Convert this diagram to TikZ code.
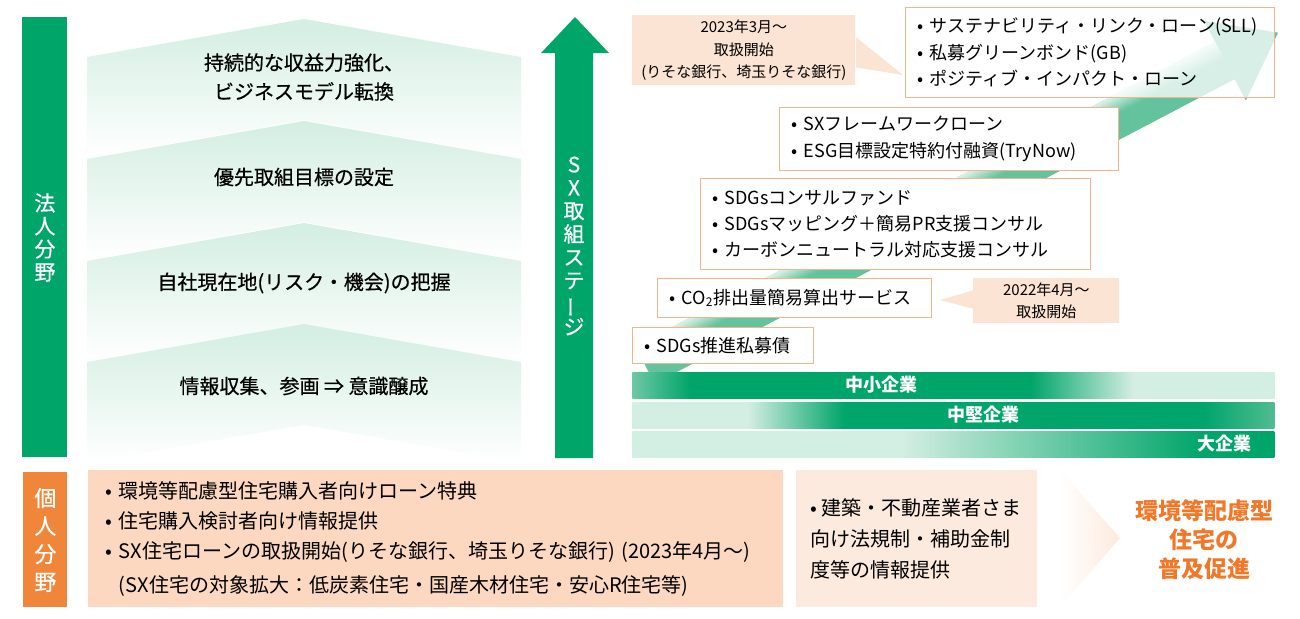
\documentclass[tikz,border=0pt]{standalone}
\usepackage{fontspec}
\setmainfont{Noto Sans CJK JP}
\newfontfamily\medjp{Noto Sans CJK JP}[FakeBold=0.5]
\usetikzlibrary{positioning,calc}
\definecolor{sxgreen}{RGB}{0,165,106}
\definecolor{palegreen}{RGB}{211,238,226}
\definecolor{barstart}{RGB}{110,200,165}
\definecolor{barend}{RGB}{80,188,145}
\definecolor{bandgreen}{RGB}{98,195,156}
\definecolor{bandpale}{RGB}{222,243,234}
\definecolor{boxorange}{RGB}{246,180,140}
\definecolor{callfill}{RGB}{252,228,212}
\definecolor{kojinorange}{RGB}{240,134,58}
\definecolor{peach}{RGB}{252,216,192}
\definecolor{lightpeach}{RGB}{253,234,222}
\definecolor{txtorange}{RGB}{240,120,40}
% path shadings: the 25bp--75bp part is stretched over the path
\pgfdeclarehorizontalshading{barsme}{100bp}{color(0bp)=(barstart); color(25bp)=(barstart); color(29.5bp)=(sxgreen); color(56bp)=(sxgreen); color(64bp)=(palegreen); color(100bp)=(palegreen)}
\pgfdeclarehorizontalshading{barmid}{100bp}{color(0bp)=(palegreen); color(34bp)=(palegreen); color(41.5bp)=(sxgreen); color(69.5bp)=(sxgreen); color(75bp)=(barend); color(100bp)=(barend)}
\pgfdeclarehorizontalshading{barlarge}{100bp}{color(0bp)=(palegreen); color(46bp)=(palegreen); color(69.5bp)=(sxgreen); color(100bp)=(sxgreen)}
\tikzset{
  sidebar/.style={anchor=north west,text=white,align=center,inner sep=0pt},
  chevtext/.style={font=\medjp\fontsize{10}{14.5}\selectfont,align=center},
  itembox/.style={draw=boxorange,line width=0.6pt,fill=white,anchor=north west,align=left,inner xsep=6pt,inner ysep=0pt},
  callout/.style={fill=callfill,anchor=north west,align=center,inner sep=0pt,font=\fontsize{7.5}{11.25}\selectfont},
  stagebar/.style={shade,anchor=north west,minimum width=321pt,minimum height=13pt,inner sep=0pt},
  bartext/.style={text=white,font=\fontsize{9}{10}\selectfont\bfseries},
}
\begin{document}
\begin{tikzpicture}[x=0.5pt,y=-0.5pt]
\useasboundingbox(0,0)rectangle(1300,618);
%corporate side bar
\node[sidebar,fill=sxgreen,minimum width=22.5pt,minimum height=220pt,font=\medjp\fontsize{10.5}{11.5}\selectfont](hojin)at(22,17){法\\人\\分\\野};
%chevrons
\foreach \a in {19,121,223,324}
  \shade[top color=palegreen,bottom color=white](87,\a+38)--(304,\a)--(521,\a+38)--(521,\a+139)--(304,\a+101)--(87,\a+139)--cycle;
\node[chevtext](chev1)at(304,77){持続的な収益力強化、\\ビジネスモデル転換};
\node[chevtext](chev2)at(304,177){優先取組目標の設定};
\node[chevtext](chev3)at(304,283){自社現在地(リスク・機会)の把握};
\node[chevtext](chev4)at(304,386){情報収集、参画 ⇒ 意識醸成};
%stage arrow
\fill[sxgreen](555,458)--(555,53)--(541,53)--(575,17)--(609,53)--(593,53)--(593,458)--cycle;
\node[text=white,align=center,font=\medjp\fontsize{10.5}{11.6}\selectfont](stage)at(574,246){S\\X\\取\\組\\ス\\テ\\\rotatebox[origin=c]{90}{ー}\\ジ};
%diagonal arrow, pale along its upper edge
\begin{scope}[shift={(645,365)},rotate=27.7]
\fill[bandgreen](0,-21)--(655,-21)--(655,-45)--(715,0)--(655,45)--(655,21)--(0,21)--cycle;
\foreach \i in {0,...,17}{
  \pgfmathsetmacro\pale{100-100*\i/18}
  \fill[bandpale!\pale!bandgreen](0,\i-21)rectangle(655,\i-19.6);
}
\end{scope}
%product boxes
\node[itembox,fill opacity=0.75,text opacity=1,minimum width=184.5pt,minimum height=45pt,text width=172.5pt,font=\fontsize{9}{13.25}\selectfont](sll)at(905,7){• サステナビリティ・リンク・ローン(SLL)\\• 私募グリーンボンド(GB)\\• ポジティブ・インパクト・ローン};
\node[itembox,minimum width=169.5pt,minimum height=31.5pt,text width=157.5pt,font=\fontsize{9}{13.5}\selectfont](sxloan)at(779,107){• SXフレームワークローン\\• ESG目標設定特約付融資(TryNow)};
\node[itembox,minimum width=195pt,minimum height=45.5pt,text width=183pt,font=\fontsize{9}{13}\selectfont](consul)at(700,178){• SDGsコンサルファンド\\• SDGsマッピング＋簡易PR支援コンサル\\• カーボンニュートラル対応支援コンサル};
\node[itembox,minimum width=137pt,minimum height=19.5pt,text width=125pt,font=\fontsize{9}{11}\selectfont](co2)at(657,278){• CO\textsubscript{2}排出量簡易算出サービス};
\node[itembox,minimum width=90.5pt,minimum height=18pt,text width=78.5pt,font=\fontsize{9}{11}\selectfont](bond)at(632,327){• SDGs推進私募債};
%callouts
\node[callout,minimum width=111.5pt,minimum height=35pt](call23)at(632,15){2023年3月～\\取扱開始\\(りそな銀行、埼玉りそな銀行)};
\coordinate(tip23)at(903,75);
\fill[callfill]($(call23.north east)!0.31!(call23.south east)$)--(tip23)--($(call23.north east)!0.74!(call23.south east)$)--cycle;
\node[callout,minimum width=73pt,minimum height=22.5pt](call22)at(973,278){2022年4月～\\取扱開始};
\coordinate(tip22)at(940,300);
\fill[callfill]($(call22.north west)!0.27!(call22.south west)$)--(tip22)--($(call22.north west)!0.67!(call22.south west)$)--cycle;
%company size bars
\node[stagebar,shading=barsme](sme)at(632,372){};
\node[stagebar,shading=barmid](midsize)at(632,402){};
\node[stagebar,shading=barlarge](large)at(632,431){};
\node[bartext](smetext)at(881,385){中小企業};
\node[bartext](midtext)at(983,415){中堅企業};
\node[bartext,anchor=east](largetext)at(1259,444){大企業};
%individual side
\node[sidebar,fill=kojinorange,minimum width=22pt,minimum height=67.5pt,font=\medjp\fontsize{11}{14}\selectfont](kojin)at(23,472){個\\人\\分\\野};
\node[anchor=north west,fill=peach,minimum width=347.5pt,minimum height=68.5pt,inner xsep=8.5pt,inner ysep=0pt,text width=330.5pt,align=left,font=\fontsize{10}{15}\selectfont](housing)at(88,470){• 環境等配慮型住宅購入者向けローン特典\\• 住宅購入検討者向け情報提供\\• SX住宅ローンの取扱開始(りそな銀行、埼玉りそな銀行) (2023年4月～)\\[2pt]\phantom{• }(SX住宅の対象拡大：低炭素住宅・国産木材住宅・安心R住宅等)};
\node[anchor=north west,fill=lightpeach,minimum width=120.5pt,minimum height=68.5pt,inner sep=0pt](builders)at(796,470){};
\node[anchor=west,align=left,inner sep=0pt,font=\fontsize{10}{15.5}\selectfont](buildtext)at(810,539){• 建築・不動産業者さま\\向け法規制・補助金制\\度等の情報提供};
\shade[left color=white,right color=lightpeach](1060,470)--(1120,538)--(1060,607)--cycle;
\node[text=txtorange,align=center,font=\fontsize{11.5}{14.5}\selectfont\bfseries](goal)at(1204,540){環境等配慮型\\住宅の\\普及促進};
\end{tikzpicture}
\end{document}
